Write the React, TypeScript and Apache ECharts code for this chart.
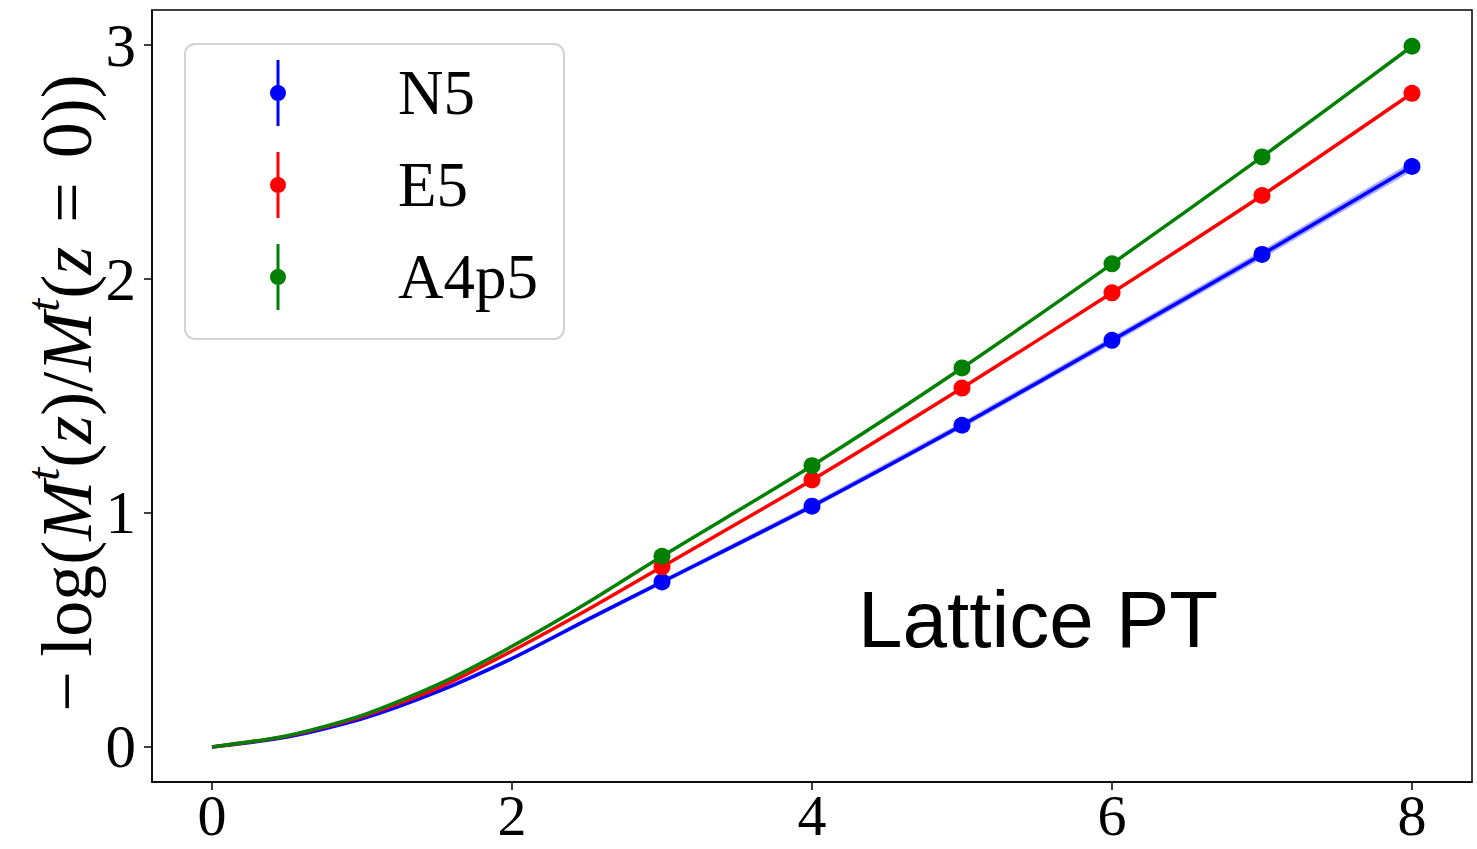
import React, { useEffect, useRef } from "react";
import * as echarts from "echarts";

// ---- data ----
const xCurve = [0, 0.5, 1, 1.5, 2, 2.5, 3, 4, 5, 6, 7, 8];
const curveN5 = [0, 0.042, 0.12, 0.235, 0.378, 0.543, 0.705, 1.029, 1.375, 1.738, 2.105, 2.481];
const curveE5 = [0, 0.046, 0.13, 0.25, 0.41, 0.585, 0.77, 1.141, 1.534, 1.941, 2.357, 2.794];
const curveA4p5 = [0, 0.048, 0.135, 0.265, 0.43, 0.615, 0.815, 1.202, 1.62, 2.065, 2.522, 2.995];
const bandN5Half = [0, 0.001, 0.002, 0.003, 0.004, 0.005, 0.006, 0.008, 0.01, 0.012, 0.014, 0.016];

const xPoints = [3, 4, 5, 6, 7, 8];
const pointsN5 = [0.705, 1.029, 1.375, 1.738, 2.105, 2.481];
const pointsE5 = [0.77, 1.141, 1.534, 1.941, 2.357, 2.794];
const pointsA4p5 = [0.815, 1.202, 1.62, 2.065, 2.522, 2.995];

const xTicks = [0, 2, 4, 6, 8];
const yTicks = [0, 1, 2, 3];

const seriesNames = ["N5", "E5", "A4p5"];
const seriesColors = ["#0000ff", "#ff0000", "#008000"];

const SERIF = "'Liberation Serif', 'DejaVu Serif', serif";
const SANS = "'Liberation Sans', Arial, sans-serif";

const legendIcon =
  "path://M6.5,0 H9.5 V66 H6.5 Z M0,33 A8,8 0 1,1 16,33 A8,8 0 1,1 0,33 Z";

export default function App() {
  const ref = useRef<HTMLDivElement>(null);

  useEffect(() => {
    if (!ref.current) return;
    const chart = echarts.init(ref.current, undefined, { renderer: "svg" });

    const curves = [curveN5, curveE5, curveA4p5];
    const points = [pointsN5, pointsE5, pointsA4p5];

    const lineSeries = seriesNames.map((name, i) => ({
      name,
      type: "line",
      data: xCurve.map((x, k) => [x, curves[i][k]]),
      showSymbol: false,
      smooth: 0.25,
      lineStyle: { color: seriesColors[i], width: 3.5 },
      itemStyle: { color: seriesColors[i] },
      z: 3,
      silent: true,
    }));

    const scatterSeries = seriesNames.map((name, i) => ({
      name,
      type: "scatter",
      data: xPoints.map((x, k) => [x, points[i][k]]),
      symbol: "circle",
      symbolSize: 17,
      itemStyle: { color: seriesColors[i], opacity: 1 },
      z: 4,
      silent: true,
    }));

    const bandSeries = {
      name: "N5 band",
      type: "custom",
      data: [0],
      z: 2,
      silent: true,
      renderItem: (_params: any, api: any) => {
        const upper = xCurve.map((x, k) => api.coord([x, curveN5[k] + bandN5Half[k]]));
        const lower = xCurve
          .map((x, k) => api.coord([x, curveN5[k] - bandN5Half[k]]))
          .reverse();
        return {
          type: "polygon",
          shape: { points: upper.concat(lower) },
          style: { fill: "rgba(80,80,255,0.35)", stroke: "rgba(80,80,255,0.35)", lineWidth: 2 },
        };
      },
    };

    const option = {
      animation: false,
      backgroundColor: "#ffffff",
      grid: {
        left: 152,
        right: 5,
        top: 10,
        bottom: 67,
        outerBoundsMode: "none",
        containLabel: false,
        show: true,
        borderColor: "#000",
        borderWidth: 1.5,
        backgroundColor: "transparent",
      },
      xAxis: {
        type: "value",
        min: -0.4,
        max: 8.4,
        axisLine: { show: true, onZero: false, lineStyle: { color: "#000", width: 1.5 } },
        axisTick: {
          show: true,
          inside: false,
          length: 8,
          customValues: xTicks,
          lineStyle: { color: "#000", width: 1.5 },
        },
        axisLabel: {
          customValues: xTicks,
          fontFamily: SERIF,
          fontSize: 58,
          lineHeight: 58,
          color: "#000",
          margin: 4,
        },
        splitLine: { show: false },
      },
      yAxis: {
        type: "value",
        min: -0.15,
        max: 3.15,
        axisLine: { show: true, onZero: false, lineStyle: { color: "#000", width: 1.5 } },
        axisTick: {
          show: true,
          inside: false,
          length: 8,
          customValues: yTicks,
          lineStyle: { color: "#000", width: 1.5 },
        },
        axisLabel: {
          customValues: yTicks,
          fontFamily: SERIF,
          fontSize: 61,
          color: "#000",
          margin: 16,
        },
        splitLine: { show: false },
      },
      legend: {
        show: true,
        orient: "vertical",
        left: 185,
        top: 44,
        data: seriesNames.map((n, i) => ({ name: n, icon: legendIcon, itemStyle: { color: seriesColors[i] } })),
        itemWidth: 16,
        itemHeight: 66,
        itemGap: 26,
        padding: [16, 26, 29, 85],
        borderColor: "#d3d3d3",
        borderWidth: 2,
        borderRadius: 10,
        backgroundColor: "rgba(255,255,255,0.8)",
        selectedMode: false,
        textStyle: {
          fontFamily: SERIF,
          fontSize: 63,
          color: "#000",
          lineHeight: 66,
          padding: [0, 0, 0, 107],
        },
      },
      graphic: [
        {
          type: "text",
          x: 67,
          y: 393,
          rotation: Math.PI / 2,
          style: {
            text:
              "{a|−\u2009log(}{i|M}{s|t}{a|(}{i|z}{a|)/}{i|M}{s|t}{a|(}{i|z}{a|\u2004=\u20040))}",
            align: "center",
            verticalAlign: "middle",
            fill: "#000",
            rich: {
              a: { fontFamily: SERIF, fontSize: 72, lineHeight: 96, fill: "#000" },
              i: { fontFamily: SERIF, fontSize: 72, lineHeight: 96, fontStyle: "italic", fill: "#000" },
              s: { fontFamily: SERIF, fontSize: 47, lineHeight: 50, fontStyle: "italic", verticalAlign: "top", fill: "#000" },
            },
          },
          z: 10,
        },
        {
          type: "text",
          x: 858,
          y: 619,
          style: {
            text: "Lattice PT",
            fontFamily: SANS,
            fontSize: 80,
            fill: "#000",
            align: "left",
            verticalAlign: "middle",
          },
          z: 10,
        },
      ],
      series: [bandSeries, ...lineSeries, ...scatterSeries],
    };

    chart.setOption(option as any);
    return () => chart.dispose();
  }, []);

  return (
    <div
      ref={ref}
      style={{ position: "fixed", left: 0, top: 0, width: 1477, height: 849, background: "#fff" }}
    />
  );
}
